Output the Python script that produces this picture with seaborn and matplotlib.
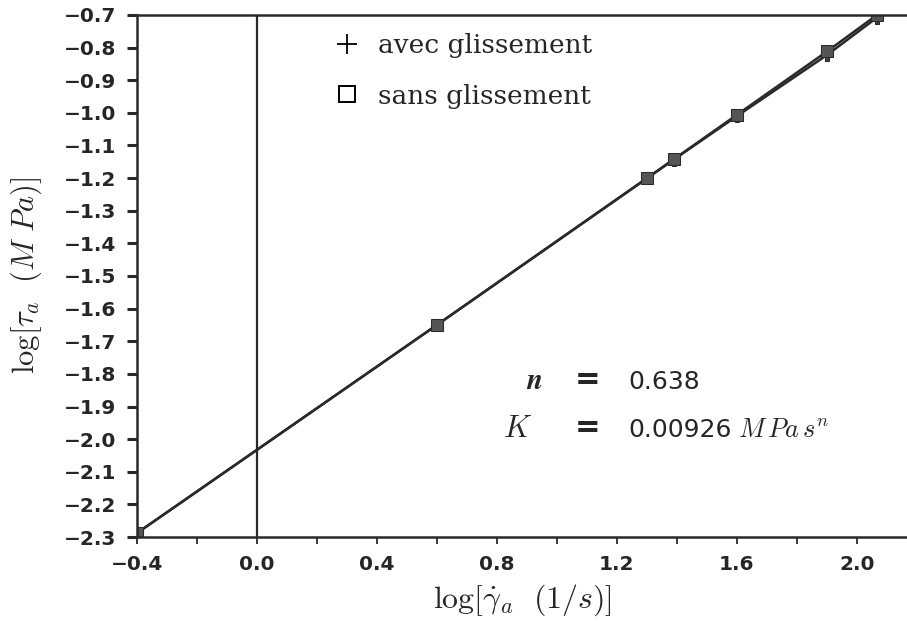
import matplotlib
matplotlib.use("Agg")
import matplotlib.pyplot as plt
from matplotlib.lines import Line2D
import seaborn as sns
import pandas as pd

# log shear rate and log shear stress, with and without wall-slip correction
log_rate = [-0.4, 0.6, 1.3, 1.39, 1.6, 1.9, 2.067]
log_stress_avec = [-2.288, -1.650, -1.201, -1.143, -1.010, -0.823, -0.708]
log_stress_sans = [-2.288, -1.650, -1.200, -1.142, -1.006, -0.812, -0.700]

series_labels = ["avec glissement", "sans glissement"]
n_value = "0.638"
k_value = "0.00926"

y_ticks = [-0.7, -0.8, -0.9, -1.0, -1.1, -1.2, -1.3, -1.4, -1.5, -1.6, -1.7,
           -1.8, -1.9, -2.0, -2.1, -2.2, -2.3]
x_major = [-0.4, 0.0, 0.4, 0.8, 1.2, 1.6, 2.0]
x_minor = [-0.2, 0.2, 0.6, 1.0, 1.4, 1.8]

sns.set_style("ticks")
plt.rcParams["mathtext.fontset"] = "cm"

df = pd.DataFrame({
    "x": log_rate * 2,
    "y": log_stress_avec + log_stress_sans,
    "serie": [series_labels[0]] * len(log_rate) + [series_labels[1]] * len(log_rate),
})

fig = plt.figure(figsize=(9.07, 6.23), dpi=100)
ax = fig.add_axes([0.151, 0.138, 0.849, 0.838])

ink = "#2a2a2a"
sns.lineplot(data=df[df.serie == series_labels[0]], x="x", y="y", ax=ax,
             color=ink, lw=1.8, marker="P", markersize=9,
             markerfacecolor="#444444", markeredgecolor=ink, sort=False)
sns.lineplot(data=df[df.serie == series_labels[1]], x="x", y="y", ax=ax,
             color=ink, lw=1.8, marker="s", markersize=8,
             markerfacecolor="#555555", markeredgecolor=ink, sort=False)

ax.axvline(0.0, color=ink, lw=1.6)

ax.set_xlim(-0.4, 2.167)
ax.set_ylim(-2.3, -0.7)

ax.set_yticks(y_ticks)
ax.set_yticklabels([f"\u2212{abs(v):.1f}" for v in y_ticks])
ax.set_xticks(x_major)
ax.set_xticklabels([f"\u2212{abs(v):.1f}" if v < 0 else f"{v:.1f}" for v in x_major])
ax.set_xticks(x_minor, minor=True)

for lab in ax.get_yticklabels() + ax.get_xticklabels():
    lab.set_fontweight("bold")
    lab.set_fontsize(14.5)
    lab.set_fontfamily("DejaVu Sans")

ax.tick_params(axis="y", direction="out", length=7, width=2.2, color=ink, pad=8)
ax.tick_params(axis="x", which="both", direction="out", length=5, width=1.3,
               color=ink, pad=8)

for side in ["left", "bottom", "top"]:
    ax.spines[side].set_linewidth(1.8)
    ax.spines[side].set_color(ink)
ax.spines["right"].set_visible(False)

ax.set_xlabel(r"$\log[\dot{\gamma}_a\ \ (1/s)]$", fontsize=23, labelpad=6)
ax.set_ylabel(r"$\log[\tau_a\ \ (M\ Pa)]$", fontsize=22, labelpad=14)

handles = [
    Line2D([], [], marker="+", linestyle="none", markersize=15,
           markeredgewidth=1.3, color="black"),
    Line2D([], [], marker="s", linestyle="none", markersize=12,
           markerfacecolor="white", markeredgecolor="black", markeredgewidth=1.4),
]
ax.legend(handles, series_labels, loc="upper left",
          bbox_to_anchor=(0.222, 1.01), frameon=False,
          prop={"family": "DejaVu Serif", "size": 19},
          handletextpad=0.55, labelspacing=0.95, handlelength=1.2)

y_n, y_k = 0.284, 0.192
ax.text(0.505, y_n, r"$\boldsymbol{n}$", transform=ax.transAxes,
        fontsize=21, ha="left", va="baseline")
ax.text(0.475, y_k, r"$K$", transform=ax.transAxes,
        fontsize=22, ha="left", va="baseline")
for yy in (y_n, y_k):
    ax.text(0.568, yy, "=", transform=ax.transAxes, fontsize=22,
            ha="left", va="baseline", family="DejaVu Serif", fontweight="bold")
ax.text(0.638, y_n, n_value, transform=ax.transAxes, fontsize=18,
        ha="left", va="baseline", family="DejaVu Sans")
ax.text(0.638, y_k, k_value, transform=ax.transAxes, fontsize=18,
        ha="left", va="baseline", family="DejaVu Sans")
ax.text(0.780, y_k, r"$M\,Pa\,s^n$", transform=ax.transAxes, fontsize=19,
        ha="left", va="baseline")

fig.savefig("out.png", dpi=100, facecolor="white")
